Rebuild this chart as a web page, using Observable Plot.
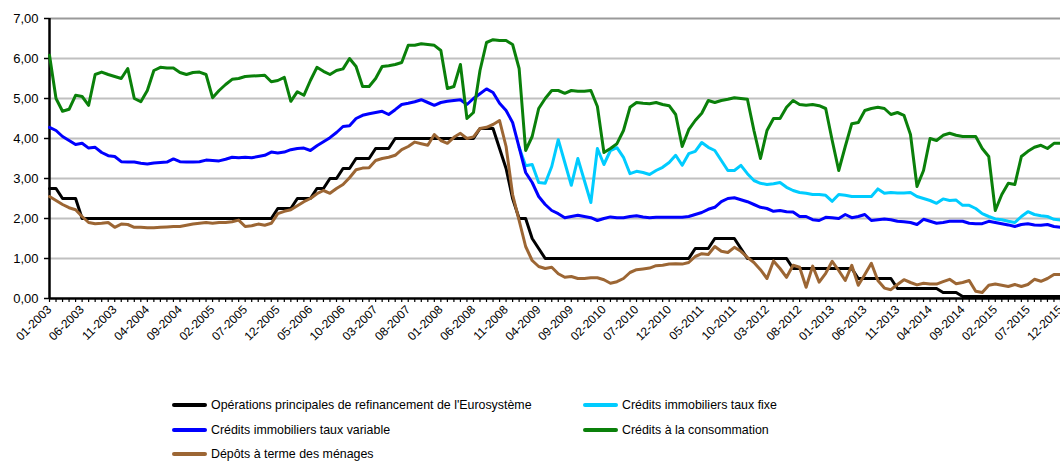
<!DOCTYPE html>
<html><head><meta charset="utf-8">
<script src="https://cdn.jsdelivr.net/npm/d3@7"></script>
<script src="https://cdn.jsdelivr.net/npm/@observablehq/plot@0.6"></script>
<style>
body{margin:0;background:#fff;overflow:hidden;font-family:"Liberation Sans",Arial,sans-serif;}
#chart{position:absolute;left:0;top:0;}
#legend{position:absolute;left:0;top:0;width:1060px;height:462px;pointer-events:none;}
.item{position:absolute;font-size:12.4px;color:#000;white-space:nowrap;line-height:14px;}
.sw{position:absolute;width:35px;height:4px;border-radius:2px;}
</style></head><body>
<div id="chart"></div><div id="legend"></div>
<script>
// ---- categories ----
const years = [2003,2004,2005,2006,2007,2008,2009,2010,2011,2012,2013,2014,2015];
const monthCodes = ["01","02","03","04","05","06","07","08","09","10","11","12"];
const months = years.flatMap(y => monthCodes.map(m => `${m}-${y}`));
const tickLabels = ["01-2003","06-2003","11-2003","04-2004","09-2004","02-2005","07-2005","12-2005","05-2006","10-2006","03-2007","08-2007","01-2008","06-2008","11-2008","04-2009","09-2009","02-2010","07-2010","12-2010","05-2011","10-2011","03-2012","08-2012","01-2013","06-2013","11-2013","04-2014","09-2014","02-2015","07-2015","12-2015"];
const yTicks = [0,1,2,3,4,5,6,7];

// ---- series names / colours ----
const seriesNames = ["Opérations principales de refinancement de l'Eurosystème","Crédits immobiliers taux fixe","Crédits immobiliers taux variable","Crédits à la consommation","Dépôts à terme des ménages"];
const seriesColors = ["#000000","#00ccff","#0000ff","#0a800a","#9c6634"];

// ---- values (monthly, 01-2003 .. 12-2015) ----
const ecbRate = [
2.75,2.75,2.5,2.5,2.5,2.0,2.0,2.0,2.0,2.0,2.0,2.0,
2.0,2.0,2.0,2.0,2.0,2.0,2.0,2.0,2.0,2.0,2.0,2.0,
2.0,2.0,2.0,2.0,2.0,2.0,2.0,2.0,2.0,2.0,2.0,2.25,
2.25,2.25,2.5,2.5,2.5,2.75,2.75,3.0,3.0,3.25,3.25,3.5,
3.5,3.5,3.75,3.75,3.75,4.0,4.0,4.0,4.0,4.0,4.0,4.0,
4.0,4.0,4.0,4.0,4.0,4.0,4.25,4.25,4.25,3.75,3.25,2.5,
2.0,2.0,1.5,1.25,1.0,1.0,1.0,1.0,1.0,1.0,1.0,1.0,
1.0,1.0,1.0,1.0,1.0,1.0,1.0,1.0,1.0,1.0,1.0,1.0,
1.0,1.0,1.0,1.25,1.25,1.25,1.5,1.5,1.5,1.5,1.25,1.0,
1.0,1.0,1.0,1.0,1.0,1.0,0.75,0.75,0.75,0.75,0.75,0.75,
0.75,0.75,0.75,0.75,0.5,0.5,0.5,0.5,0.5,0.5,0.25,0.25,
0.25,0.25,0.25,0.25,0.25,0.15,0.15,0.15,0.05,0.05,0.05,0.05,
0.05,0.05,0.05,0.05,0.05,0.05,0.05,0.05,0.05,0.05,0.05,0.05];

const fixedStart = "01-2009";
const fixedRate = [
3.78,3.32,3.35,2.9,2.88,3.3,3.97,3.4,2.83,3.5,2.95,2.4,
3.75,3.35,3.7,3.77,3.53,3.12,3.18,3.15,3.1,3.2,3.28,3.4,
3.58,3.33,3.62,3.68,3.9,3.78,3.7,3.45,3.2,3.2,3.33,3.12,
2.95,2.88,2.85,2.87,2.9,2.78,2.7,2.65,2.63,2.6,2.6,2.58,
2.43,2.6,2.58,2.55,2.55,2.55,2.55,2.74,2.63,2.65,2.64,2.64,
2.65,2.55,2.5,2.45,2.38,2.49,2.45,2.46,2.33,2.33,2.25,2.12,
2.05,1.99,1.97,1.93,1.9,2.05,2.17,2.1,2.07,2.05,1.98,1.96];

const variableRate = [
4.28,4.2,4.05,3.95,3.85,3.88,3.76,3.78,3.65,3.57,3.55,3.42,
3.41,3.41,3.38,3.36,3.39,3.4,3.41,3.49,3.42,3.41,3.41,3.42,
3.46,3.45,3.44,3.48,3.53,3.52,3.53,3.52,3.55,3.58,3.66,3.64,
3.66,3.72,3.75,3.76,3.7,3.82,3.92,4.02,4.15,4.3,4.32,4.5,
4.58,4.62,4.65,4.68,4.6,4.72,4.85,4.88,4.92,4.97,4.9,4.83,
4.9,4.93,4.95,4.97,4.85,5.0,5.12,5.24,5.15,4.88,4.7,4.4,
3.78,3.15,2.9,2.55,2.35,2.2,2.12,2.02,2.05,2.08,2.05,2.02,
1.95,2.0,2.04,2.02,2.02,2.05,2.07,2.04,2.02,2.03,2.03,2.03,
2.03,2.03,2.05,2.1,2.15,2.23,2.28,2.42,2.5,2.52,2.47,2.42,
2.35,2.28,2.25,2.18,2.2,2.17,2.16,2.05,2.05,1.97,1.95,2.03,
2.02,2.0,2.1,2.02,2.05,2.1,1.95,1.97,1.99,1.97,1.93,1.92,
1.9,1.85,1.98,1.93,1.88,1.9,1.93,1.93,1.93,1.88,1.87,1.87,
1.93,1.9,1.87,1.84,1.8,1.85,1.87,1.84,1.83,1.85,1.8,1.78];

const consumerRate = [
6.08,5.0,4.68,4.73,5.08,5.05,4.83,5.6,5.66,5.6,5.55,5.5,
5.75,5.0,4.92,5.2,5.7,5.78,5.76,5.76,5.65,5.6,5.65,5.66,
5.6,5.02,5.2,5.35,5.48,5.5,5.55,5.56,5.57,5.58,5.42,5.45,
5.53,4.93,5.17,5.08,5.45,5.78,5.68,5.6,5.7,5.74,6.0,5.8,
5.3,5.3,5.5,5.8,5.82,5.85,5.9,6.33,6.33,6.37,6.35,6.33,
6.2,5.25,5.3,5.85,4.5,4.65,5.7,6.4,6.47,6.45,6.45,6.35,
5.75,3.7,4.05,4.75,5.0,5.2,5.2,5.13,5.2,5.18,5.18,5.2,
4.8,3.65,3.75,3.87,4.2,4.78,4.9,4.88,4.87,4.9,4.85,4.82,
4.6,3.8,4.22,4.45,4.63,4.95,4.9,4.95,4.98,5.02,5.0,4.98,
4.2,3.5,4.2,4.5,4.5,4.78,4.95,4.85,4.83,4.85,4.82,4.75,
3.95,3.2,3.8,4.37,4.4,4.7,4.75,4.78,4.75,4.6,4.65,4.58,
4.1,2.8,3.2,4.0,3.95,4.08,4.13,4.08,4.05,4.05,4.05,3.75,
3.55,2.2,2.6,2.88,2.85,3.55,3.68,3.78,3.83,3.75,3.88,3.88];

const depositRate = [
2.55,2.45,2.35,2.27,2.22,2.05,1.9,1.87,1.88,1.9,1.78,1.86,
1.85,1.78,1.78,1.77,1.77,1.78,1.79,1.8,1.8,1.83,1.86,1.88,
1.9,1.88,1.9,1.9,1.92,1.96,1.8,1.82,1.86,1.83,1.88,2.12,
2.18,2.22,2.32,2.42,2.5,2.62,2.7,2.63,2.75,2.85,3.02,3.22,
3.26,3.27,3.45,3.5,3.53,3.58,3.72,3.8,3.91,3.87,3.83,4.1,
3.95,3.88,4.03,4.13,4.0,4.04,4.25,4.28,4.35,4.45,3.8,2.6,
1.95,1.3,0.95,0.8,0.75,0.78,0.62,0.53,0.55,0.5,0.5,0.52,
0.52,0.47,0.38,0.42,0.5,0.65,0.72,0.74,0.76,0.82,0.83,0.86,
0.87,0.86,0.9,1.05,1.12,1.1,1.3,1.18,1.15,1.28,1.18,1.03,
0.9,0.72,0.5,0.94,0.75,0.53,0.83,0.78,0.28,0.81,0.41,0.63,
0.93,0.7,0.45,0.83,0.33,0.6,0.88,0.45,0.26,0.22,0.35,0.47,
0.4,0.34,0.38,0.36,0.36,0.42,0.48,0.37,0.4,0.45,0.18,0.15,
0.33,0.36,0.33,0.3,0.35,0.3,0.35,0.48,0.43,0.5,0.6,0.6];

// ---- build tables ----
function rows(values, name, startLabel = months[0]) {
  const s = months.indexOf(startLabel);
  return values.map((v, i) => ({month: months[s + i], value: v, series: name}));
}
const seriesData = [
  rows(ecbRate, seriesNames[0]),
  rows(fixedRate, seriesNames[1], fixedStart),
  rows(variableRate, seriesNames[2]),
  rows(consumerRate, seriesNames[3]),
  rows(depositRate, seriesNames[4])
];
const fmt = d => d.toFixed(2).replace(".", ",");

const chart = Plot.plot({
  width: 1060,
  height: 372,
  marginLeft: 49,
  marginRight: 0,
  marginTop: 18,
  marginBottom: 74,
  style: {fontFamily: "'Liberation Sans', Arial, sans-serif", color: "#000", background: "#fff", overflow: "visible"},
  x: {type: "point", domain: months, padding: 0},
  y: {domain: [0, 7]},
  color: {domain: seriesNames, range: seriesColors},
  marks: [
    Plot.gridY(yTicks.filter(d => d > 0 && d < 7), {stroke: "#c0c0c0", strokeOpacity: 1, strokeWidth: 2}),
    Plot.gridY([7], {stroke: "#9a9a9a", strokeOpacity: 1, strokeWidth: 2}),
    Plot.axisY(yTicks, {tickSize: 5, tickPadding: 6, tickFormat: fmt, fontSize: 13, label: null, strokeWidth: 1.5}),
    Plot.axisX(months, {tickSize: 4, tickFormat: () => "", label: null, strokeWidth: 1.2}),
    Plot.axisX(tickLabels, {tickSize: 0, tickRotate: -45, tickPadding: 9, fontSize: 12, label: null}),
    Plot.ruleY([0], {stroke: "#000", strokeWidth: 2.5}),
    Plot.ruleX([months[0]], {stroke: "#000", strokeWidth: 2.5}),
    ...seriesData.map(d => Plot.lineY(d, {x: "month", y: "value", stroke: "series", strokeWidth: 3, strokeLinejoin: "round"}))
  ]
});
document.getElementById("chart").appendChild(chart);

// ---- legend (HTML, below the plot) ----
const legendPos = [
  {sx: 172, tx: 211, y: 405},
  {sx: 583, tx: 622, y: 405},
  {sx: 172, tx: 211, y: 430},
  {sx: 583, tx: 622, y: 430},
  {sx: 172, tx: 211, y: 454}
];
const legend = document.getElementById("legend");
seriesNames.forEach((name, i) => {
  const p = legendPos[i];
  const sw = document.createElement("div");
  sw.className = "sw";
  sw.style.left = p.sx + "px";
  sw.style.top = (p.y - 2) + "px";
  sw.style.background = seriesColors[i];
  legend.appendChild(sw);
  const t = document.createElement("div");
  t.className = "item";
  t.style.left = p.tx + "px";
  t.style.top = (p.y - 7) + "px";
  t.textContent = name;
  legend.appendChild(t);
});
</script>
</body></html>
